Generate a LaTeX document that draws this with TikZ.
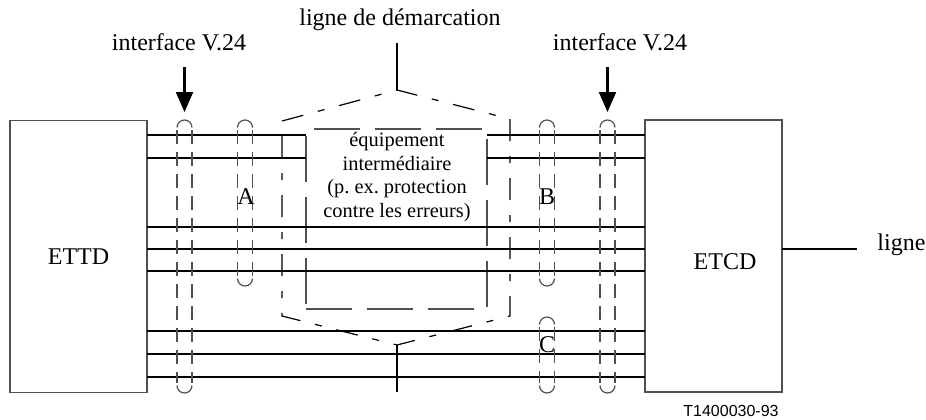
\documentclass[tikz,border=0pt]{standalone}
\usepackage{fontspec}
\setmainfont{Liberation Serif}
\setsansfont{Liberation Sans}
\usetikzlibrary{arrows.meta}
\definecolor{trait}{HTML}{505050}

\begin{document}
\begin{tikzpicture}[x=0.5pt,y=-0.5pt,
    bloc/.style={draw=trait, line width=0.6pt, minimum width=68.5pt, minimum height=136pt,
                 outer sep=0pt, font=\fontsize{12}{14}\selectfont},
    txt/.style={font=\fontsize{12}{14}\selectfont, inner sep=0pt},
    bus/.style={line width=1.1pt},
    arrondi/.style={draw=trait, line width=0.6pt},
    pointille/.style={draw=trait, line width=0.6pt, dash pattern=on 7pt off 4pt},
    equip/.style={draw=trait, line width=0.6pt, dash pattern=on 23pt off 7.5pt,
                  minimum width=90.5pt, minimum height=90pt, outer sep=0pt},
    demarc/.style={line width=0.6pt, dash pattern=on 11pt off 7.5pt on 3.5pt off 7.5pt},
    fleche/.style={line width=1.1pt, -{Triangle[width=8.5pt,length=10pt]}}]
    \useasboundingbox (0,0) rectangle (926,419);
    \node[bloc] (ettd) at (78.5,256.5) {ETTD};
    \node[bloc] (etcd) at (713.5,256) {};
    \node[txt]  (etcdtxt) at (725,262) {ETCD};
    \node[equip] (equip) at (396.5,219) {};
    \node[txt, align=center, font=\fontsize{10.2}{11.7}\selectfont] (equiptxt) at (397,177)
        {équipement\\intermédiaire\\(p.\ ex.\ protection\\contre les erreurs)};
    \node[txt] (lignedem) at (400,20) {ligne de démarcation};
    \node[txt] (intG) at (179,42) {interface V.24};
    \node[txt] (intD) at (620,42) {interface V.24};
    \foreach \y in {135,158} {
        \draw[bus] (ettd.east |- 0,\y) -- (equip.west |- 0,\y);
        \draw[bus] (equip.east |- 0,\y) -- (etcd.west |- 0,\y);
    }
    \foreach \y in {227,249,271,331,354,377}
        \draw[bus] (ettd.east |- 0,\y) -- (etcd.west |- 0,\y);
    \foreach \x/\ya/\yb/\n in {184.5/120/393/1, 245/120/286/2, 547/120/286/3,
                                547/317/393/4, 607.5/120/393/5} {
        \coordinate (boucle\n) at (\x,\ya);
        \draw[arrondi] (\x-7.5,\ya+7.5) arc[start angle=180, end angle=0, radius=3.75pt];
        \draw[arrondi] (\x-7.5,\yb-7.5) arc[start angle=180, end angle=360, radius=3.75pt];
        \draw[pointille] (\x-7.5,\ya+10) -- (\x-7.5,\yb-10) (\x+7.5,\ya+10) -- (\x+7.5,\yb-10);
    }
    \node[txt] (lettreA) at (246,197) {A};
    \node[txt] (lettreB) at (547,197) {B};
    \node[txt] (lettreC) at (547,345) {C};
    \coordinate (fl1) at (184.5,67);
    \coordinate (fl5) at (607.5,67);
    \draw[fleche] (fl1) -- ([yshift=4pt]boucle1);
    \draw[fleche] (fl5) -- ([yshift=4pt]boucle5);
    \coordinate (hexN) at (397,90);
    \coordinate (hexS) at (397,345);
    \draw[demarc] (282,121) -- (hexN) -- (510,119) -- (510,316) -- (hexS) -- (282,316) -- cycle;
    \coordinate (demtop) at (397,43);
    \coordinate (hexpied) at (397,392);
    \draw[bus] (demtop) -- (hexN);
    \draw[bus] (hexS) -- (hexpied);
    \coordinate (lignefin) at (857,249);
    \draw[bus] (etcd.east |- lignefin) -- (lignefin);
    \node[txt, anchor=base west] (ligne) at (877,250) {ligne};
    \node[inner sep=0pt, font=\sffamily\fontsize{8}{9.6}\selectfont] (ref) at (731,411) {T1400030-93};
\end{tikzpicture}
\end{document}
